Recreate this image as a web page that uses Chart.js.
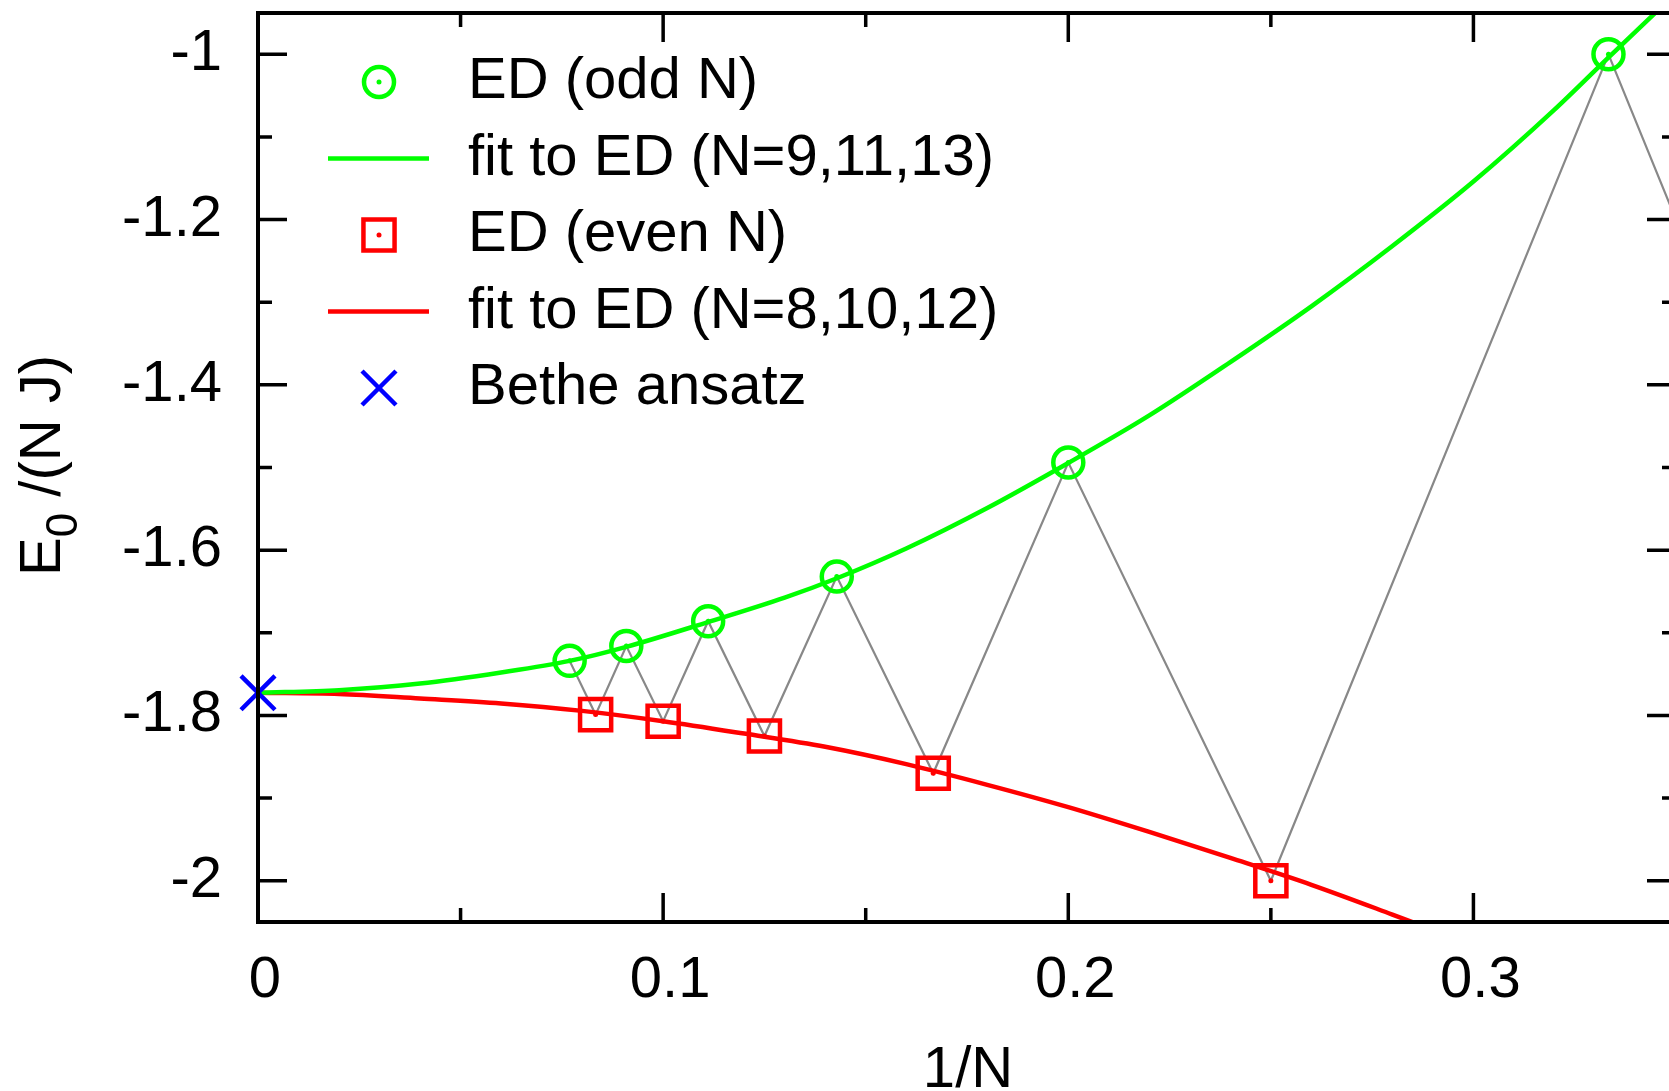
<!DOCTYPE html>
<html>
<head>
<meta charset="utf-8">
<title>E0/(N J) vs 1/N</title>
<script src="https://cdn.jsdelivr.net/npm/chart.js@4/dist/chart.umd.min.js"></script>
<style>
html, body { margin: 0; padding: 0; background: #fff; overflow: hidden; }
#wrap { width: 1700px; height: 1091px; }
canvas { display: block; }
</style>
</head>
<body>
<div id="wrap"><canvas id="chart" width="1700" height="1091"></canvas></div>
<script>
// ED ground state energies, odd and even ring sizes
const oddN = [13, 11, 9, 7, 5, 3];
const oddE = [-1.734, -1.716, -1.686, -1.632, -1.494, -1.000];
const evenN = [12, 10, 8, 6, 4, 2];
const evenE = [-1.799, -1.807, -1.825, -1.870, -2.000, -3.000];

// Bethe ansatz value at 1/N = 0
const betheX = [0];
const betheE = [-1.7726];

// fit curves
const oddFitX = [0, 0.02, 0.04, 0.06, 0.0769, 0.0909, 0.1111, 0.13, 0.1429, 0.16, 0.18, 0.20, 0.22, 0.24, 0.26, 0.28, 0.30, 0.32, 0.3333, 0.35];
const oddFitE = [-1.7726, -1.7695, -1.7615, -1.748, -1.734, -1.717, -1.687, -1.6575, -1.634, -1.598, -1.549, -1.4945, -1.437, -1.3725, -1.305, -1.232, -1.154, -1.067, -1.004, -0.926];
const evenFitX = [0, 0.02, 0.04, 0.06, 0.08, 0.10, 0.12, 0.14, 0.16, 0.18, 0.20, 0.22, 0.24, 0.26, 0.28, 0.30];
const evenFitE = [-1.7726, -1.7740, -1.7795, -1.7855, -1.7945, -1.807, -1.822, -1.838, -1.859, -1.884, -1.911, -1.941, -1.9725, -2.005, -2.041, -2.078];

// ticks
const xMajor = [0, 0.1, 0.2, 0.3];
const xMinor = [0.05, 0.15, 0.25];
const yMajor = [-2, -1.8, -1.6, -1.4, -1.2, -1];
const yMinor = [-1.9, -1.7, -1.5, -1.3, -1.1];

const FONT = "'Liberation Sans', Arial, Helvetica, sans-serif";
const GREEN = '#00ff00';
const RED = '#ff0000';
const BLUE = '#0000ff';
const GRAY = '#888888';

function toPoints(xs, ys) {
    return xs.map((x, i) => ({ x: x, y: ys[i] }));
}

const oddPts = toPoints(oddN.map(n => 1 / n), oddE);
const evenPts = toPoints(evenN.map(n => 1 / n), evenE);

// all ED points ordered by N for the gray zigzag
const zigzag = oddPts.concat(evenPts).sort((a, b) => a.x - b.x);

// Frame with inward ticks on all four sides
const framePlugin = {
    id: 'frame',
    afterDatasetsDraw(chart) {
        const ctx = chart.ctx;
        const a = chart.chartArea;
        const xs = chart.scales.x;
        const ys = chart.scales.y;
        ctx.save();
        ctx.strokeStyle = '#000';
        ctx.lineWidth = 3.5;
        ctx.beginPath();
        const vTick = (v, len) => {
            const px = xs.getPixelForValue(v);
            ctx.moveTo(px, a.bottom); ctx.lineTo(px, a.bottom - len);
            ctx.moveTo(px, a.top); ctx.lineTo(px, a.top + len);
        };
        const hTick = (v, len) => {
            const py = ys.getPixelForValue(v);
            ctx.moveTo(a.left, py); ctx.lineTo(a.left + len, py);
            ctx.moveTo(a.right, py); ctx.lineTo(a.right - len, py);
        };
        xMajor.forEach(v => vTick(v, 29));
        xMinor.forEach(v => vTick(v, 14));
        yMajor.forEach(v => hTick(v, 29));
        yMinor.forEach(v => hTick(v, 14));
        ctx.stroke();
        ctx.lineWidth = 4;
        ctx.strokeRect(a.left, a.top, a.right - a.left, a.bottom - a.top);
        ctx.restore();
    }
};

// Key inside the plot, gnuplot style
const legendOrder = [1, 5, 3, 6, 0];
const legendPlugin = {
    id: 'key',
    afterDraw(chart) {
        const ctx = chart.ctx;
        ctx.save();
        ctx.font = '58px ' + FONT;
        ctx.textBaseline = 'middle';
        legendOrder.forEach((di, row) => {
            const ds = chart.data.datasets[di];
            const y = 82 + row * 76.5;
            const cx = 379;
            if (ds.showLine) {
                ctx.strokeStyle = ds.borderColor;
                ctx.lineWidth = ds.borderWidth;
                ctx.beginPath();
                ctx.moveTo(328, y);
                ctx.lineTo(429, y);
                ctx.stroke();
            } else {
                ctx.strokeStyle = ds.pointBorderColor;
                ctx.lineWidth = ds.pointBorderWidth;
                ctx.fillStyle = 'rgba(0,0,0,0)';
                Chart.helpers.drawPoint(ctx, {
                    pointStyle: ds.pointStyle,
                    radius: ds.pointRadius,
                    rotation: 0,
                    borderWidth: ds.pointBorderWidth
                }, cx, y);
                if (ds.pointStyle !== 'crossRot') {
                    ctx.fillStyle = ds.pointBorderColor;
                    ctx.beginPath();
                    ctx.arc(cx, y, 2.5, 0, Math.PI * 2);
                    ctx.fill();
                }
            }
            ctx.fillStyle = '#000';
            ctx.fillText(ds.label, 468, y);
        });
        ctx.restore();
    }
};

// Axis titles (y title has a subscript)
const titlePlugin = {
    id: 'titles',
    afterDraw(chart) {
        const ctx = chart.ctx;
        const a = chart.chartArea;
        ctx.save();
        ctx.fillStyle = '#000';
        ctx.textBaseline = 'alphabetic';
        ctx.font = '58px ' + FONT;
        ctx.textAlign = 'center';
        ctx.fillText('1/N', (a.left + a.right) / 2 + 1, 1087);

        ctx.textAlign = 'left';
        ctx.translate(60, 576);
        ctx.rotate(-Math.PI / 2);
        let x = 0;
        ctx.fillText('E', x, 0);
        x += ctx.measureText('E').width;
        ctx.font = '44px ' + FONT;
        ctx.fillText('0', x, 17);
        x += ctx.measureText('0').width;
        ctx.font = '58px ' + FONT;
        ctx.fillText(' /(N J)', x, 0);
        ctx.restore();
    }
};

const ctx = document.getElementById('chart').getContext('2d');
new Chart(ctx, {
    type: 'scatter',
    data: {
        datasets: [
            {
                label: 'Bethe ansatz',
                data: toPoints(betheX, betheE),
                pointStyle: 'crossRot',
                pointRadius: 24,
                pointBorderWidth: 4.5,
                pointBorderColor: BLUE,
                pointBackgroundColor: 'rgba(0,0,0,0)',
                showLine: false,
                clip: false
            },
            {
                label: 'ED (odd N)',
                data: oddPts,
                pointStyle: 'circle',
                pointRadius: 15,
                pointBorderWidth: 4.5,
                pointBorderColor: GREEN,
                pointBackgroundColor: 'rgba(0,0,0,0)',
                showLine: false
            },
            {
                label: 'odd dots',
                data: oddPts,
                pointRadius: 2.5,
                pointBorderWidth: 0,
                pointBackgroundColor: GREEN,
                showLine: false
            },
            {
                label: 'ED (even N)',
                data: evenPts,
                pointStyle: 'rect',
                pointRadius: 22,
                pointBorderWidth: 4.5,
                pointBorderColor: RED,
                pointBackgroundColor: 'rgba(0,0,0,0)',
                showLine: false
            },
            {
                label: 'even dots',
                data: evenPts,
                pointRadius: 2.5,
                pointBorderWidth: 0,
                pointBackgroundColor: RED,
                showLine: false
            },
            {
                label: 'fit to ED (N=9,11,13)',
                data: toPoints(oddFitX, oddFitE),
                showLine: true,
                borderColor: GREEN,
                borderWidth: 4.5,
                pointRadius: 0,
                cubicInterpolationMode: 'monotone',
                clip: 0
            },
            {
                label: 'fit to ED (N=8,10,12)',
                data: toPoints(evenFitX, evenFitE),
                showLine: true,
                borderColor: RED,
                borderWidth: 4.5,
                pointRadius: 0,
                cubicInterpolationMode: 'monotone',
                clip: 0
            },
            {
                label: 'ED zigzag',
                data: zigzag,
                showLine: true,
                borderColor: GRAY,
                borderWidth: 2.2,
                pointRadius: 0,
                clip: 0
            }
        ]
    },
    options: {
        responsive: false,
        animation: false,
        events: [],
        layout: {
            autoPadding: false,
            padding: { top: 13, right: 24, bottom: 0, left: 0 }
        },
        plugins: {
            legend: { display: false },
            tooltip: { enabled: false }
        },
        scales: {
            x: {
                type: 'linear',
                min: 0,
                max: 0.35,
                afterBuildTicks: s => { s.ticks = xMajor.map(v => ({ value: v })); },
                afterFit: s => {
                    s.height = 169;
                    s.paddingLeft = 0;
                    s.paddingRight = 0;
                },
                grid: { display: false, drawTicks: false },
                border: { display: false },
                ticks: {
                    padding: 24,
                    labelOffset: 7,
                    color: '#000',
                    font: { family: FONT, size: 58 },
                    maxRotation: 0,
                    autoSkip: false,
                    callback: v => String(v)
                }
            },
            y: {
                type: 'linear',
                min: -2.05,
                max: -0.95,
                afterBuildTicks: s => { s.ticks = yMajor.map(v => ({ value: v })); },
                afterFit: s => {
                    s.width = 258;
                    s.paddingTop = 0;
                    s.paddingBottom = 0;
                },
                grid: { display: false, drawTicks: false },
                border: { display: false },
                ticks: {
                    padding: 36,
                    color: '#000',
                    font: { family: FONT, size: 58 },
                    autoSkip: false,
                    callback: v => String(v)
                }
            }
        }
    },
    plugins: [framePlugin, legendPlugin, titlePlugin]
});
</script>
</body>
</html>
